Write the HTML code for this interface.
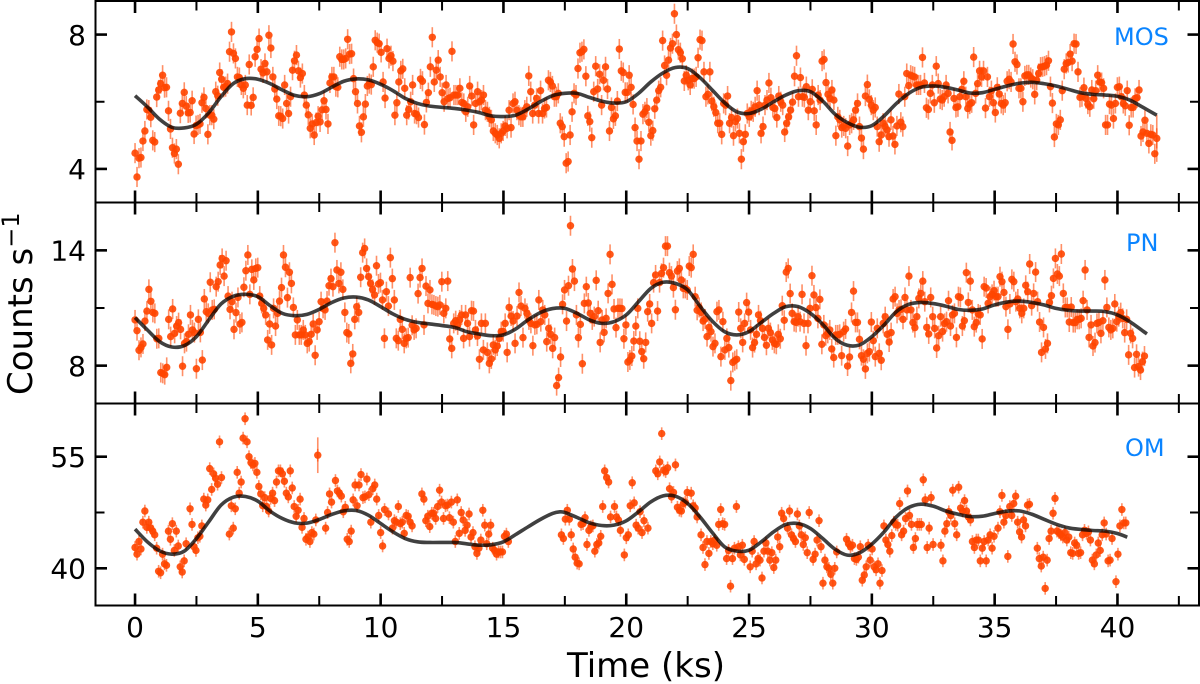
<!DOCTYPE html>
<html lang="en">
<head>
<meta charset="utf-8">
<title>Light curves: MOS, PN and OM</title>
<style>
html,body{margin:0;padding:0;background:#fff;width:1200px;height:684px;overflow:hidden}
svg{display:block;font-family:"DejaVu Sans","Liberation Sans",sans-serif}
</style>
</head>
<body>
<svg id="chart" xmlns="http://www.w3.org/2000/svg" width="1200" height="684" viewBox="0 0 1200 684">
  <rect x="0" y="0" width="1200" height="684" fill="#fff"/>
  <g id="plots"></g>
  <text x="646" y="677" font-size="34" text-anchor="middle" fill="#000">Time (ks)</text>
  <text transform="translate(32,395) rotate(-90)" font-size="34" fill="#000">Counts s<tspan dy="-13" font-size="24">−1</tspan></text>
  <text x="1114" y="45" font-size="24" fill="#0a84ff">MOS</text>
  <text x="1126" y="251" font-size="24" fill="#0a84ff">PN</text>
  <text x="1125" y="456" font-size="24" fill="#0a84ff">OM</text>
</svg>
<script>
const xTicks = [0,2.5,5,7.5,10,12.5,15,17.5,20,22.5,25,27.5,30,32.5,35,37.5,40,42.5];
const xTickLabels = ["0","","5","","10","","15","","20","","25","","30","","35","","40",""];

const mosTicks = [4,6,8];
const mosTickLabels = ["4","","8"];
const pnTicks = [8,11,14];
const pnTickLabels = ["8","","14"];
const omTicks = [40,47.5,55];
const omTickLabels = ["40","","55"];

const mosError = 0.3;
const pnError = 0.52;
const omError = 0.85;

const mosValues = [4.47,3.76,4.32,4.34,4.83,5.13,5.77,5.75,5.54,4.85,4.80,6.14,6.35,6.54,6.79,6.42,6.43,5.73,5.19,4.63,4.46,4.59,4.14,5.66,5.95,6.28,5.87,5.67,5.68,6.03,5.04,5.29,5.31,5.34,5.97,6.13,5.80,5.03,5.60,5.60,5.48,6.30,6.18,6.87,6.67,6.43,6.45,6.54,7.49,8.08,7.44,7.29,6.74,6.72,6.50,6.40,6.50,5.90,7.11,5.89,6.13,7.34,7.56,7.88,6.97,6.86,7.14,6.89,7.98,7.60,6.74,6.38,6.08,5.58,5.57,5.50,6.50,5.95,5.65,6.15,6.94,7.22,7.39,6.92,6.72,6.84,6.20,5.90,5.61,5.21,5.34,5.01,5.38,5.57,5.40,5.76,6.03,5.77,5.34,6.56,6.74,6.74,6.45,6.43,7.34,7.26,7.26,7.29,7.86,7.42,7.43,6.69,6.30,5.95,5.28,5.09,5.55,5.93,6.47,6.54,6.51,7.04,7.83,7.76,7.73,7.47,6.59,6.11,7.58,7.29,7.37,7.21,5.60,5.97,6.59,6.92,6.98,6.40,5.60,5.77,6.00,6.50,5.65,5.63,5.53,6.68,6.61,5.32,5.98,6.27,7.04,7.92,6.59,6.94,7.24,6.74,6.27,6.00,6.50,6.10,6.12,7.50,6.20,6.20,6.20,6.40,5.98,5.95,5.70,5.85,6.47,
6.17,5.31,5.95,6.30,6.00,6.05,6.20,5.75,5.70,5.55,5.46,5.13,5.06,5.01,4.91,5.06,5.13,5.28,5.21,5.75,5.23,5.95,6.00,5.75,5.60,5.55,5.55,5.75,5.85,6.77,6.30,5.65,5.90,6.10,5.65,6.33,5.65,5.80,5.83,6.64,6.59,6.47,6.15,6.15,6.25,5.36,5.26,4.96,4.17,4.22,5.01,5.70,6.25,6.20,6.99,7.46,7.49,7.56,6.76,5.58,5.41,4.93,6.30,7.06,6.38,6.82,5.90,6.64,7.04,6.38,5.13,5.83,5.49,5.58,6.02,7.57,6.92,6.87,6.28,6.28,6.79,6.43,5.92,5.23,4.83,4.29,4.83,5.63,5.70,5.81,5.39,4.99,5.14,5.79,6.05,6.33,6.43,7.82,7.08,6.79,7.24,7.60,7.73,8.62,8.00,7.55,7.46,7.28,6.62,6.79,6.64,6.50,6.69,6.69,6.74,7.31,7.85,7.82,6.89,6.15,6.22,6.89,6.02,5.85,5.68,5.36,5.36,5.03,5.95,5.90,6.17,5.36,5.53,4.99,5.41,5.50,5.06,4.29,4.81,5.03,5.65,5.55,5.73,5.70,5.85,6.33,5.90,5.06,5.26,5.90,6.05,6.56,6.12,5.83,5.80,5.53,6.17,6.00,5.90,5.10,5.36,5.55,5.75,5.99,6.76,7.37,6.15,6.72,6.15,6.13,6.45,5.75,6.00,6.37,5.73,5.31,6.20,6.05,7.21,7.26,6.57,6.22,6.10,6.35,6.05,4.99,5.55,
5.46,5.23,5.28,5.21,4.68,5.31,5.36,5.46,5.75,5.95,5.26,4.92,4.59,6.17,6.51,6.07,5.90,5.75,5.83,5.26,4.81,5.01,5.36,5.26,5.16,4.96,5.46,4.98,4.73,5.28,6.23,5.39,5.26,6.15,6.84,6.48,6.79,6.76,6.74,6.50,6.50,6.50,7.32,6.56,5.82,5.77,6.25,6.50,5.97,7.06,6.54,6.08,6.05,6.15,6.50,6.25,5.10,4.85,6.10,5.83,5.85,6.15,6.37,6.61,6.15,5.80,5.93,5.97,7.33,6.25,6.54,6.92,6.74,6.92,5.81,6.74,6.15,6.33,5.97,5.68,6.43,6.23,5.95,5.90,5.97,6.61,6.67,6.59,7.72,7.19,7.11,6.40,6.40,6.00,6.77,6.80,6.80,6.72,6.67,6.22,6.64,6.84,7.03,7.04,7.06,7.09,7.22,6.45,5.96,4.95,5.34,5.31,5.46,6.33,6.97,7.14,7.17,7.42,7.21,7.73,7.72,6.89,6.13,6.15,6.42,6.10,5.93,5.85,6.35,6.09,6.33,6.79,6.59,6.57,6.40,5.31,5.31,5.93,5.90,5.50,5.95,6.43,6.45,6.15,5.95,5.88,6.33,5.30,5.83,5.83,6.10,6.12,6.35,4.98,5.10,5.45,5.06,4.76,5.03,5.01,4.45,4.91];

const mosCurveTimes = [0,0.5,1,1.5,2,2.5,3,3.5,4,4.5,5,5.5,6,6.5,7,7.5,8,8.5,9,9.5,10,10.5,11,11.5,12,13,13.5,14,14.5,15,15.5,16,16.5,17,17.5,18,18.5,19,19.5,20,20.5,21,21.5,22,22.5,23,23.5,24,24.5,25,25.5,26,26.5,27,27.5,28,28.5,29,29.5,30,30.5,31,31.5,32,32.5,33,33.5,34,34.5,35,35.5,36,36.5,37,37.5,38,38.5,39,39.5,40,40.5,41,41.6];
const mosCurveValues = [6.18,5.85,5.48,5.24,5.22,5.33,5.67,6.15,6.54,6.69,6.67,6.54,6.35,6.19,6.15,6.24,6.43,6.61,6.68,6.65,6.52,6.33,6.10,5.95,5.87,5.80,5.75,5.68,5.58,5.56,5.60,5.78,6.00,6.18,6.25,6.25,6.13,6.02,5.96,6.00,6.25,6.59,6.86,7.02,6.99,6.72,6.35,5.97,5.70,5.65,5.78,6.00,6.20,6.33,6.30,6.02,5.63,5.38,5.24,5.29,5.58,5.95,6.25,6.43,6.47,6.43,6.35,6.26,6.27,6.37,6.47,6.55,6.58,6.54,6.47,6.37,6.27,6.22,6.20,6.16,6.05,5.85,5.60];

const pnValues = [10.38,9.82,8.80,8.95,9.13,10.32,10.84,11.97,11.35,10.77,10.72,9.40,9.42,7.64,7.60,7.53,7.91,10.41,9.51,10.95,9.68,10.06,10.24,9.89,7.97,9.16,9.25,9.63,10.64,9.86,9.72,7.84,10.41,9.73,8.29,11.47,10.81,10.72,12.34,10.90,10.93,12.11,12.37,13.24,13.58,12.66,13.46,11.62,10.93,11.33,9.89,10.76,11.55,10.17,10.25,12.08,12.94,13.76,11.71,13.01,12.46,13.06,13.10,11.62,11.24,10.98,10.64,9.34,10.17,9.08,10.98,10.06,10.72,11.36,12.06,13.76,13.12,11.54,12.86,12.28,11.03,9.60,10.38,9.60,9.60,9.86,9.60,9.16,9.25,9.63,10.17,8.54,9.86,10.29,11.33,10.98,10.90,11.36,12.16,12.53,12.11,14.40,12.98,12.28,12.86,11.97,10.77,9.72,9.65,8.12,8.61,10.41,11.07,10.77,12.60,13.88,14.10,13.06,12.63,12.28,11.97,11.68,13.20,12.25,12.32,11.42,9.42,11.85,11.10,13.62,12.53,11.42,9.42,9.30,10.41,9.89,9.16,9.42,9.46,12.58,10.10,9.86,9.94,11.75,12.58,13.06,10.12,12.14,11.24,11.94,11.19,11.16,11.10,11.07,11.16,12.37,10.72,10.98,12.40,9.39,8.90,10.20,10.34,10.12,10.38,10.64,9.42,10.64,10.20,9.51,10.86,
10.84,9.86,9.54,8.33,10.20,8.82,10.20,8.69,8.12,8.35,9.08,8.82,9.02,9.42,9.77,9.77,10.20,8.69,11.03,10.58,10.32,9.16,10.58,11.81,11.10,9.46,10.98,10.72,10.38,10.20,9.04,10.12,10.15,11.42,10.29,10.90,10.64,9.25,9.94,9.63,8.90,9.46,6.96,7.38,8.45,11.19,11.94,10.32,12.16,15.28,13.03,12.40,10.64,9.46,10.15,8.10,11.24,12.11,11.26,10.72,10.38,10.55,12.44,10.86,9.21,10.38,9.73,10.46,11.76,13.79,12.23,10.95,9.98,10.98,10.98,10.97,9.40,10.12,8.19,8.29,8.50,9.28,10.06,10.98,9.27,8.73,8.36,9.21,10.81,11.21,10.20,12.32,12.72,10.84,12.32,12.80,13.10,14.22,14.22,12.84,12.66,12.06,10.91,12.92,13.06,12.46,12.02,12.02,11.94,13.18,13.10,13.79,11.59,10.88,11.03,10.77,10.32,10.43,9.51,9.99,9.77,8.99,9.16,10.81,10.90,8.47,10.29,8.82,9.42,8.94,7.22,8.17,8.26,8.33,10.79,9.94,9.21,10.20,11.28,10.79,9.86,8.94,9.20,9.63,10.64,10.34,9.94,9.47,9.06,9.94,9.72,9.34,9.16,9.11,9.63,9.40,11.12,10.36,12.87,13.06,11.75,10.72,10.29,10.25,10.55,10.29,11.71,10.20,9.04,10.20,10.98,12.68,11.68,11.02,10.46,11.45,9.11,10.12,9.56,9.68,9.86,8.87,8.42,9.60,
9.60,9.63,8.52,9.77,9.91,7.98,8.45,10.77,11.88,10.25,10.25,9.37,8.52,8.33,7.83,8.64,8.73,10.27,9.30,8.47,9.94,8.64,8.28,10.20,10.55,9.63,9.23,9.72,11.47,11.59,10.72,10.90,10.93,10.41,11.55,10.90,12.66,10.90,10.24,9.98,10.55,11.50,11.76,12.40,11.33,9.99,9.65,11.55,10.55,9.94,8.92,9.56,10.55,9.77,10.20,10.29,11.38,10.06,10.64,10.72,9.47,11.59,11.55,10.06,10.34,12.84,11.29,12.40,10.90,10.03,10.24,10.69,10.64,9.39,12.11,12.04,11.24,11.59,11.71,11.90,11.59,11.59,12.63,12.37,11.81,11.07,9.89,11.21,12.49,12.37,11.33,11.47,10.98,10.72,10.98,12.18,11.85,13.29,11.12,11.76,12.87,11.33,10.27,8.69,9.99,8.87,9.16,11.29,11.64,12.54,13.58,12.77,12.66,13.81,11.76,11.03,11.03,10.27,11.05,10.24,10.24,10.41,10.41,10.46,11.38,12.98,10.90,9.47,10.12,9.02,9.20,10.20,10.25,9.68,10.34,12.46,11.03,9.99,9.86,9.94,11.21,10.29,10.55,10.76,10.46,9.72,10.41,8.56,9.68,9.42,7.90,8.59,7.95,7.77,8.21,8.50];

const pnCurveTimes = [0,0.5,1,1.5,2,2.5,3,3.5,4,4.5,5,5.5,6,6.5,7,7.5,8,8.5,9,9.5,10,10.5,11,11.5,12,13,13.5,14,14.5,15,15.5,16,16.5,17,17.5,18,18.5,19,19.5,20,20.5,21,21.5,22,22.5,23,23.5,24,24.5,25,25.5,26,26.5,27,27.5,28,28.5,29,29.5,30,30.5,31,31.5,32,32.5,33,33.5,34,34.5,35,35.5,36,36.5,37,37.5,38,38.5,39,39.5,40,40.5,41.2];
const pnCurveValues = [10.50,9.86,9.25,8.97,9.04,9.51,10.38,11.21,11.61,11.71,11.59,11.12,10.72,10.60,10.67,10.93,11.28,11.52,11.57,11.42,11.07,10.69,10.41,10.25,10.17,9.99,9.77,9.65,9.56,9.60,9.91,10.38,10.76,10.97,10.98,10.72,10.38,10.20,10.29,10.64,11.33,12.02,12.34,12.28,11.94,11.10,10.32,9.77,9.60,9.77,10.25,10.72,11.07,11.07,10.72,10.15,9.42,9.06,9.08,9.51,10.12,10.81,11.19,11.29,11.23,11.10,10.93,10.88,10.95,11.16,11.31,11.36,11.29,11.16,10.98,10.88,10.84,10.84,10.81,10.64,10.29,9.65];

const omValuesEarly = [42.8,41.9,43.6,42.6,46.2,47.7,45.5,46.2,45.4,45.0,44.5,42.7,39.6,39.4,41.9,40.6,40.4,45.0,43.9,46.0,42.4,45.0,43.0,40.2,39.5,41.0,43.3,null,48.0,45.9,42.9,42.4,44.1,44.3,45.7,49.3,48.5,49.2,53.4,50.6,52.7,52.1,51.3,57.0,52.2,null,null,null,44.6,48.4,45.4,48.0,52.9,50.1,51.6,57.5,60.1,57.0,55.0,54.2,53.9,54.1,52.9,51.0,50.0,48.4,49.5,48.3,47.7,49.4,50.1,49.1,51.6,53.1,53.1,52.7,51.7,50.1,49.6,53.1,50.8,48.3,47.0,47.8,49.3,45.5,46.7,43.9,44.2,43.6,44.8,44.6,46.5,55.2,null,null,null,45.4,47.5,50.0,48.9,null,51.8,50.4,50.1,49.7,47.6,48.2,43.9,43.6,45.0,49.2,51.2,48.4,51.2,52.6,49.5,49.6,52.0,49.9,46.2,50.7,51.2,49.3,47.1,44.8,43.0,47.9,null,47.3,null,45.4,46.4,46.2,48.3,46.0,46.2,44.7,47.1,47.0,46.2,45.7,null,null,null,null,50.0,49.3,46.4,47.0,45.6,47.4,47.4,46.7,48.3,50.5,48.9,46.7,48.4,48.5,46.8,48.9,46.2,43.6,49.2,44.7,47.5,46.5,45.1,45.8,47.3,
44.2,44.8,42.9,42.0,42.7,43.8,47.8,45.8,43.3,44.6,45.8,42.7,42.4,41.9,42.2,42.2,42.2,44.3,44.6,43.6];

const omValuesLate = [44.5,44.0,46.6,47.8,46.6,44.5,42.6,41.5,40.7,40.6,45.9,46.0,46.8,43.2,45.1,45.6,45.7,42.3,43.2,43.4,44.3,48.3,53.1,52.2,51.6,46.9,null,48.3,46.9,46.5,45.1,null,41.8,44.1,44.5,48.4,51.5,48.8,45.8,45.4,47.6,44.8,46.4,null,45.4,null,null,null,53.1,52.7,54.3,58.1,53.2,53.0,53.5,50.7,49.6,50.2,53.9,48.2,47.8,47.7,48.7,48.9,50.2,null,50.1,48.4,48.1,46.9,null,44.5,42.8,40.5,43.6,42.0,43.6,43.3,43.8,43.1,45.9,47.9,46.0,45.9,41.3,42.4,37.6,41.3,42.7,48.3,42.9,41.8,43.1,41.2,null,null,40.2,42.3,43.6,40.6,41.3,41.1,38.7,42.3,43.4,42.3,41.1,42.1,40.1,41.1,44.2,42.9,47.4,46.7,null,45.4,47.7,44.5,44.0,43.6,47.3,45.7,44.5,43.2,44.1,42.1,47.5,null,41.2,41.9,43.8,46.4,42.9,38.0,41.1,40.2,40.0,39.2,38.0,40.0,42.2,
null,null,null,null,43.9,43.3,42.9,43.1,41.3,41.2,41.5,42.9,38.4,39.1,40.2,43.1,41.1,42.6,40.2,39.8,40.6,38.0,39.7,45.7,43.8,43.2,42.3,44.4,46.2,45.9,45.8,48.7,44.5,45.0,46.7,50.4,47.1,45.9,42.8,44.0,45.9,45.9,45.9,51.9,49.2,42.8,45.4,49.5,43.2,null,null,null,43.1,41.0,45.0,46.0,47.6,47.1,50.5,46.0,44.5,50.9,48.1,47.7,49.1,47.7,46.9,46.5,43.6,42.8,43.8,43.8,41.0,42.7,43.6,41.0,43.8,44.5,42.7,44.3,null,45.4,47.6,49.8,46.2,47.1,41.6,48.3,47.1,48.7,49.7,46.2,44.9,44.2,46.5,45.7,48.5,48.6,null,null,null,42.7,41.3,40.3,41.5,37.3,41.1,44.0,45.0,47.4,49.4,45.0,44.8,44.5,44.2,44.8,43.8,44.2,42.1,42.0,43.4,43.1,42.0,42.1,44.5,45.1,44.7,44.9,43.8,41.1,40.6,41.8,43.4,42.4,44.5,46.1,44.6,41.0,41.1,44.0,null,38.2,41.9,45.7,47.9,46.1,46.1];

const omCurveTimes = [0,0.5,1,1.5,2,2.5,3,3.5,4,4.5,5,5.5,6,6.5,7,7.5,8,8.5,9,9.5,10,10.5,11,11.5,12,13,13.5,14,14.5,15,15.5,16,16.5,17,17.3,17.5,18,18.5,19,19.5,20,20.5,21,21.5,22,22.5,23,23.5,24,24.5,25,25.5,26,26.5,27,27.5,28,28.5,29,29.5,30,30.5,31,31.5,32,32.5,33,33.5,34,34.5,35,35.5,36,36.5,37,37.5,38,38.5,39,39.5,40,40.4];
const omCurveValues = [45.26,43.56,42.35,41.90,42.30,44.00,46.25,48.49,49.56,49.65,49.02,47.68,46.69,46.11,46.07,46.56,47.23,47.72,47.77,47.14,46.02,44.90,44.00,43.56,43.47,43.47,43.29,43.11,43.16,43.56,44.54,45.57,46.56,47.37,47.59,47.50,46.83,46.11,45.75,45.80,46.38,47.59,48.93,49.74,49.69,48.71,46.92,44.81,42.89,42.31,42.44,43.56,44.90,45.89,46.02,45.35,44.00,42.57,41.77,42.08,43.25,44.90,46.92,48.17,48.62,48.35,47.72,47.28,46.96,47.00,47.37,47.68,47.72,47.28,46.60,45.93,45.44,45.22,45.08,45.00,44.68,44.19];

const xScaleStart = -1.61;
const xScaleEnd = 43.32;
const plotLeft = 95.5;
const plotRight = 1199;

const panels = [
  {name:'mos', top:1, bottom:202.5, yMin:3.0, yMax:9.0, ticks:mosTicks, labels:mosTickLabels, err:mosError, curveT:mosCurveTimes, curveV:mosCurveValues,
   runs:[{t0:0, t1:41.6, values:mosValues}], wide:[{t:41.6, v:4.91, e:0.7}], showX:false},
  {name:'pn', top:202.5, bottom:403.5, yMin:6.03, yMax:16.49, ticks:pnTicks, labels:pnTickLabels, err:pnError, curveT:pnCurveTimes, curveV:pnCurveValues,
   runs:[{t0:0, t1:41.1, values:pnValues}], wide:[], showX:false},
  {name:'om', top:403.5, bottom:605.5, yMin:35.0, yMax:62.15, ticks:omTicks, labels:omTickLabels, err:omError, curveT:omCurveTimes, curveV:omCurveValues,
   runs:[{t0:0, t1:15.2, values:omValuesEarly},{t0:17.36, t1:40.34, values:omValuesLate}], wide:[{t:7.44, v:55.2, e:2.4}], showX:true}
];

const NS = 'http://www.w3.org/2000/svg';
const plots = document.getElementById('plots');

function xPos(t){ return plotLeft + (t - xScaleStart) / (xScaleEnd - xScaleStart) * (plotRight - plotLeft); }

function make(tag, attrs, parent){
  const el = document.createElementNS(NS, tag);
  for (const k in attrs) el.setAttribute(k, attrs[k]);
  parent.appendChild(el);
  return el;
}

function curvePath(ts, vs, yPos){
  const pts = ts.map((t,i)=>[xPos(t), yPos(vs[i])]);
  let d = 'M' + pts[0][0].toFixed(2) + ' ' + pts[0][1].toFixed(2);
  for (let i=0;i<pts.length-1;i++){
    const p0 = pts[Math.max(i-1,0)], p1 = pts[i], p2 = pts[i+1], p3 = pts[Math.min(i+2,pts.length-1)];
    const c1x = p1[0]+(p2[0]-p0[0])/6, c1y = p1[1]+(p2[1]-p0[1])/6;
    const c2x = p2[0]-(p3[0]-p1[0])/6, c2y = p2[1]-(p3[1]-p1[1])/6;
    d += 'C'+c1x.toFixed(2)+' '+c1y.toFixed(2)+' '+c2x.toFixed(2)+' '+c2y.toFixed(2)+' '+p2[0].toFixed(2)+' '+p2[1].toFixed(2);
  }
  return d;
}

panels.forEach(function(p){
  const yPos = function(v){ return p.top + (p.yMax - v) / (p.yMax - p.yMin) * (p.bottom - p.top); };
  const g = make('g', {}, plots);
  
  

  const bars = make('g', {stroke:'#ff4500', 'stroke-width':'1.6', 'stroke-opacity':'0.6'}, g);
  
  
  const dots = make('g', {fill:'#ff4500', 'fill-opacity':'0.9'}, g);
  
  

  p.runs.forEach(function(run){
    const n = run.values.length;
    run.values.forEach(function(v,i){
      if (v === null) return;
      const t = run.t0 + i * (run.t1 - run.t0) / (n - 1);
      const cx = xPos(t);
      const bar = make('line', {x1:cx.toFixed(2), x2:cx.toFixed(2), y1:yPos(v+p.err).toFixed(2), y2:yPos(v-p.err).toFixed(2)}, bars);
      
      
      const dot = make('circle', {cx:cx.toFixed(2), cy:yPos(v).toFixed(2), r:'3.7'}, dots);
      
      
    });
  });

  p.wide.forEach(function(w){
    const bar = make('line', {x1:xPos(w.t), x2:xPos(w.t), y1:yPos(w.v+w.e), y2:yPos(w.v-w.e)}, bars);
    
    
  });

  const curve = make('path', {d:curvePath(p.curveT, p.curveV, yPos), fill:'none', stroke:'#000', 'stroke-opacity':'0.75', 'stroke-width':'3.6', 'stroke-linejoin':'round'}, g);
  
  

  xTicks.forEach(function(t,i){
    const major = xTickLabels[i] !== '';
    const len = major ? 12 : 9.5;
    const w = major ? 2.6 : 2;
    const x = xPos(t);
    const top = make('line', {x1:x, x2:x, y1:p.top, y2:p.top+len, stroke:'#000', 'stroke-width':w}, g);
    
    
    const bot = make('line', {x1:x, x2:x, y1:p.bottom, y2:p.bottom-len, stroke:'#000', 'stroke-width':w}, g);
    
    
    if (p.showX && major){
      const lab = make('text', {x:x, y:637, 'text-anchor':'middle', 'font-size':'28', fill:'#000'}, g);
      
      
      lab.textContent = xTickLabels[i];
    }
  });

  p.ticks.forEach(function(v,i){
    const major = p.labels[i] !== '';
    const len = major ? 11.5 : 9;
    const w = major ? 2.6 : 2;
    const y = yPos(v);
    const l = make('line', {x1:plotLeft, x2:plotLeft+len, y1:y, y2:y, stroke:'#000', 'stroke-width':w}, g);
    
    
    const r = make('line', {x1:plotRight, x2:plotRight-len, y1:y, y2:y, stroke:'#000', 'stroke-width':w}, g);
    
    
    if (major){
      const lab = make('text', {x:86, y:y+10.2, 'text-anchor':'end', 'font-size':'28', fill:'#000'}, g);
      
      
      lab.textContent = p.labels[i];
    }
  });

  const frame = make('rect', {x:plotLeft, y:p.top, width:plotRight-plotLeft, height:p.bottom-p.top, fill:'none', stroke:'#000', 'stroke-width':'2'}, g);
  
  
});
</script>
</body>
</html>
